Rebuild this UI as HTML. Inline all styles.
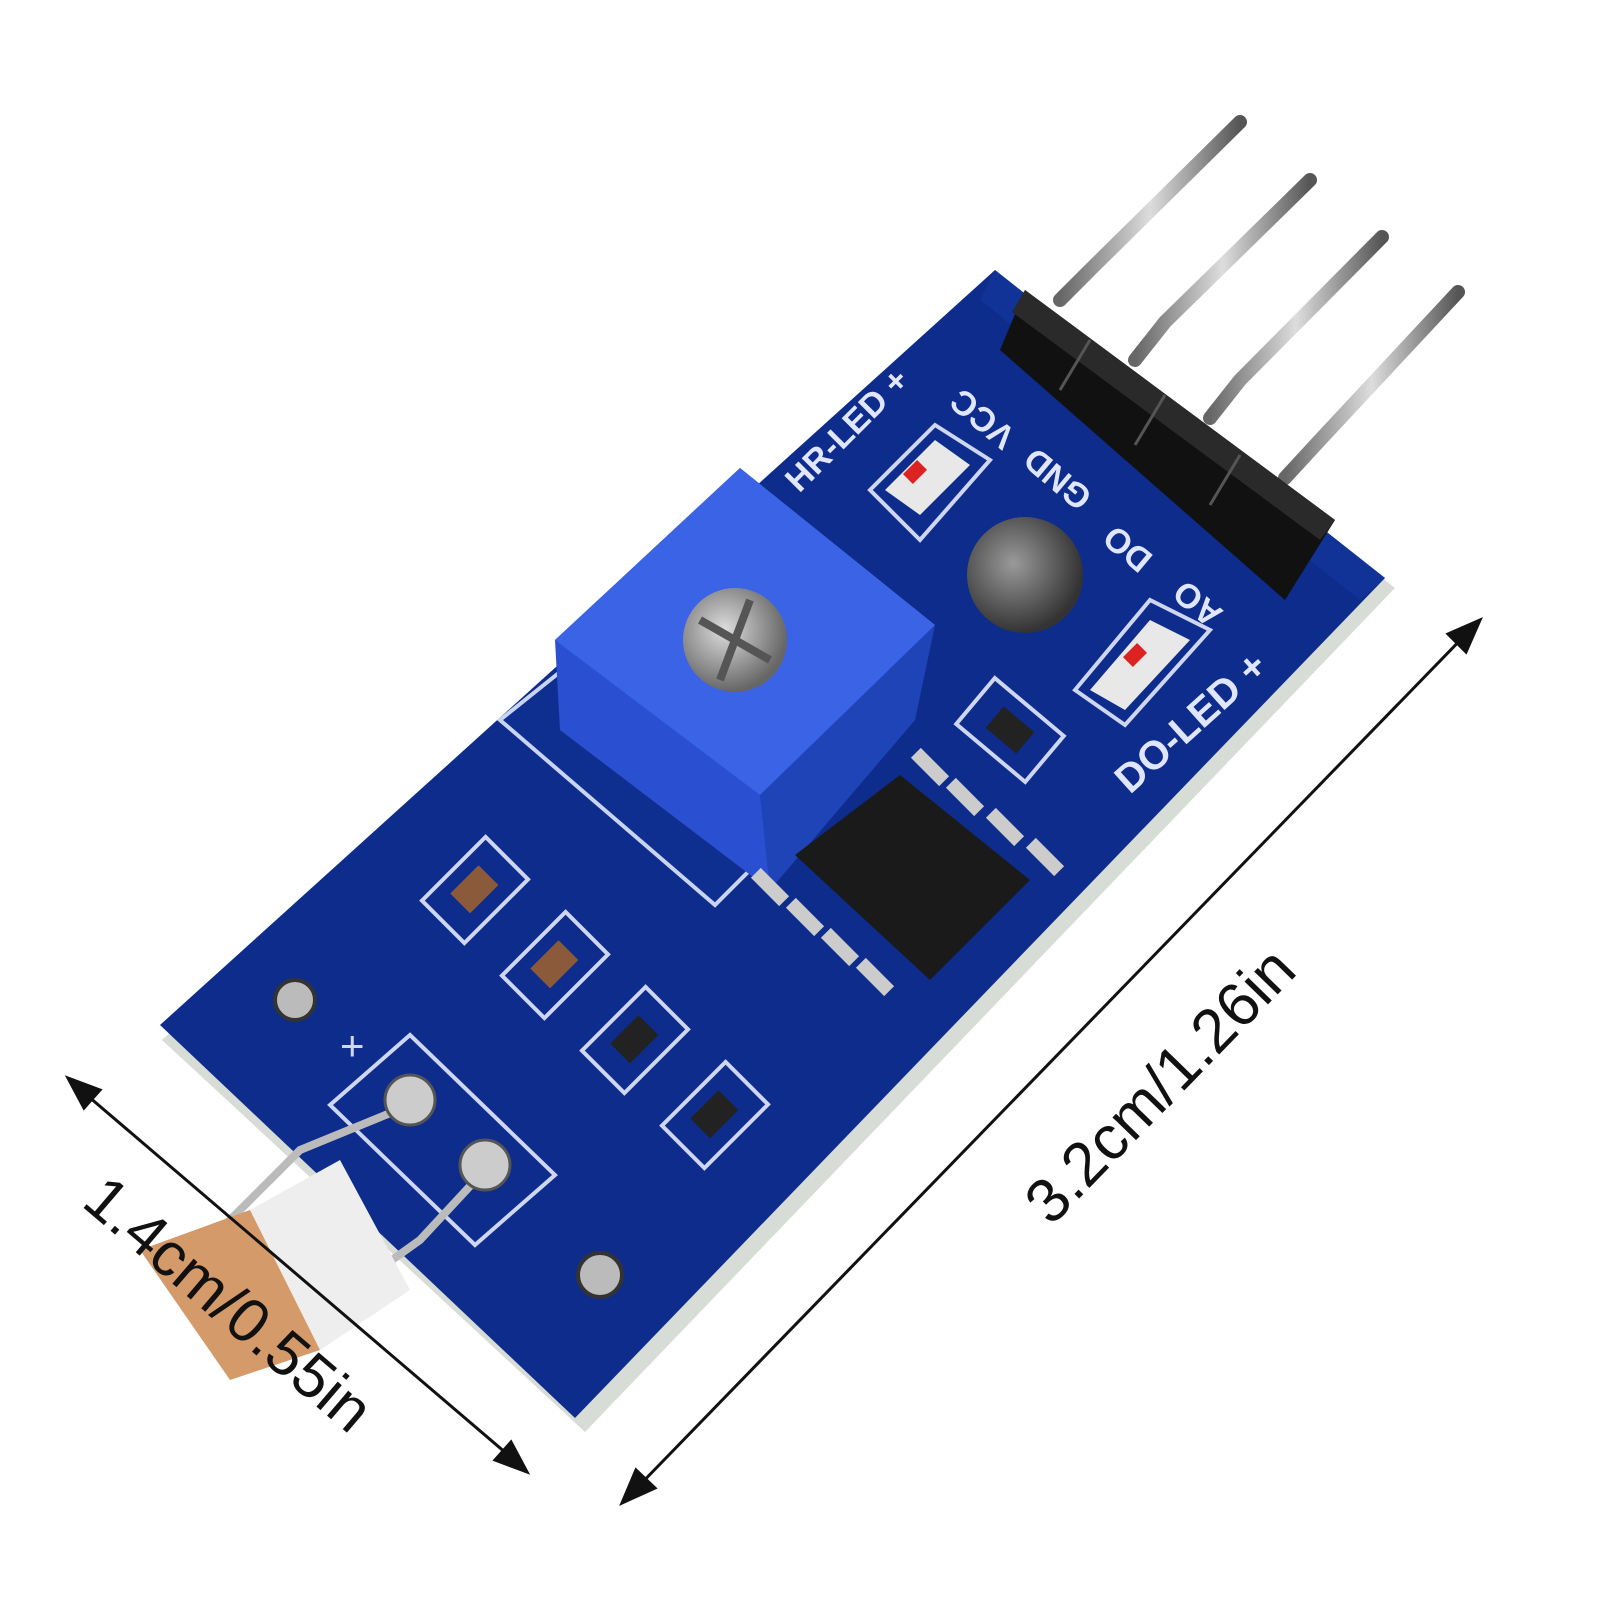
<!DOCTYPE html>
<html><head><meta charset="utf-8"><style>
html,body{margin:0;padding:0;background:#fff;}
svg{display:block;}
</style></head><body>
<svg width="1600" height="1600" viewBox="0 0 1600 1600" xmlns="http://www.w3.org/2000/svg">
<defs>
<linearGradient id="pin" x1="0" y1="0" x2="1" y2="0">
<stop offset="0" stop-color="#666"/><stop offset="0.5" stop-color="#ddd"/><stop offset="1" stop-color="#555"/>
</linearGradient>
<radialGradient id="hole" cx="0.4" cy="0.4" r="0.6"><stop offset="0" stop-color="#9a9a9a"/><stop offset="1" stop-color="#333"/></radialGradient>
<radialGradient id="screw" cx="0.4" cy="0.4" r="0.6"><stop offset="0" stop-color="#ddd"/><stop offset="1" stop-color="#666"/></radialGradient>
</defs>

<polygon points="1000,278 1395,588 585,1432 162,1040" fill="#d8dcd6"/>
<polygon points="995,270 1385,578 575,1418 160,1025" fill="#0d2c8c"/>
<polygon points="995,270 1385,578 1360,600 980,300" fill="#14389e" opacity="0.6"/>

<g stroke="url(#pin)" stroke-width="14" stroke-linecap="round" fill="none">
<path d="M1240,122 L1095,265 L1060,300"/>
<path d="M1310,180 L1165,322 L1135,360"/>
<path d="M1382,237 L1240,380 L1210,418"/>
<path d="M1458,292 L1320,440 L1285,478"/>
</g>
<polygon points="1025,290 1335,520 1285,600 1000,350" fill="#111"/>
<polygon points="1025,290 1335,520 1320,540 1012,312" fill="#2a2a2a"/>
<g stroke="#555" stroke-width="3">
<line x1="1090" y1="340" x2="1060" y2="390"/><line x1="1165" y1="395" x2="1135" y2="445"/><line x1="1240" y1="455" x2="1210" y2="505"/>
</g>

<circle cx="1025" cy="575" r="58" fill="url(#hole)"/>

<polygon points="500,720 700,560 910,710 715,905" fill="#0f2f90" stroke="#c8d4f0" stroke-width="4"/>
<polygon points="555,640 740,468 935,625 770,890 560,730" fill="#2a4fd0"/>
<polygon points="555,640 740,468 935,625 760,795" fill="#3b63e6"/>
<polygon points="760,795 935,625 915,720 770,890" fill="#1f44b8"/>
<circle cx="735" cy="640" r="52" fill="url(#screw)"/>
<path d="M700,620 L770,660 M720,680 L750,600" stroke="#555" stroke-width="8"/>

<g>
<polygon points="870,490 935,425 990,460 920,540" fill="none" stroke="#cfd6f0" stroke-width="4"/>
<polygon points="885,490 935,440 970,465 920,515" fill="#e8e8e8"/>
<rect x="905" y="465" width="20" height="14" fill="#d22" transform="rotate(-45 915 472)"/>
<polygon points="1075,690 1150,600 1210,630 1125,725" fill="none" stroke="#cfd6f0" stroke-width="4"/>
<polygon points="1090,690 1150,620 1190,640 1125,710" fill="#e8e8e8"/>
<rect x="1125" y="648" width="20" height="14" fill="#d22" transform="rotate(-45 1135 655)"/>
</g>

<polygon points="795,855 900,775 1030,880 930,980" fill="#1a1a1a"/>
<g fill="#ccc">
<rect x="750" y="880" width="40" height="14" transform="rotate(45 770 887)"/>
<rect x="785" y="910" width="40" height="14" transform="rotate(45 805 917)"/>
<rect x="820" y="940" width="40" height="14" transform="rotate(45 840 947)"/>
<rect x="855" y="970" width="40" height="14" transform="rotate(45 875 977)"/>
<rect x="910" y="760" width="40" height="14" transform="rotate(45 930 767)"/>
<rect x="945" y="790" width="40" height="14" transform="rotate(45 965 797)"/>
<rect x="985" y="820" width="40" height="14" transform="rotate(45 1005 827)"/>
<rect x="1025" y="850" width="40" height="14" transform="rotate(45 1045 857)"/>
</g>

<g stroke="#cfd6f0" stroke-width="4" fill="none">
<rect x="430" y="860" width="90" height="60" transform="rotate(-45 475 890)"/>
<rect x="510" y="935" width="90" height="60" transform="rotate(-45 555 965)"/>
<rect x="590" y="1010" width="90" height="60" transform="rotate(-45 635 1040)"/>
<rect x="670" y="1085" width="90" height="60" transform="rotate(-45 715 1115)"/>
<rect x="965" y="700" width="90" height="60" transform="rotate(40 1010 730)"/>
</g>
<g fill="#8a5a3a">
<rect x="455" y="875" width="40" height="28" transform="rotate(-45 475 890)"/>
<rect x="535" y="950" width="40" height="28" transform="rotate(-45 555 965)"/>
</g>
<g fill="#222">
<rect x="615" y="1025" width="40" height="28" transform="rotate(-45 635 1040)"/>
<rect x="695" y="1100" width="40" height="28" transform="rotate(-45 715 1115)"/>
<rect x="990" y="716" width="40" height="28" transform="rotate(40 1010 730)"/>
</g>

<polygon points="330,1105 410,1035 555,1175 475,1245" fill="none" stroke="#cfd6f0" stroke-width="4"/>
<circle cx="295" cy="1000" r="20" fill="#bbb" stroke="#333" stroke-width="4"/>
<circle cx="600" cy="1275" r="22" fill="#bbb" stroke="#333" stroke-width="4"/>
<text x="340" y="1060" font-family="Liberation Sans,sans-serif" font-size="42" fill="#cfd6f0">+</text>

<path d="M410,1105 L300,1150 L220,1230" stroke="#bbb" stroke-width="8" fill="none"/>
<path d="M485,1170 L420,1240 L350,1290" stroke="#bbb" stroke-width="8" fill="none"/>
<polygon points="250,1210 340,1160 410,1290 320,1350" fill="#eeeeee"/>
<polygon points="140,1250 250,1210 320,1350 230,1380" fill="#d49a6a"/>
<circle cx="410" cy="1100" r="25" fill="#ccc" stroke="#555" stroke-width="3"/>
<circle cx="485" cy="1165" r="25" fill="#ccc" stroke="#555" stroke-width="3"/>

<g font-family="Liberation Sans,sans-serif" fill="#e0e6ff" font-weight="bold">
<text x="0" y="0" font-size="40" transform="translate(1130,795) rotate(-42)">DO-LED +</text>
<text x="0" y="0" font-size="34" text-anchor="middle" transform="translate(990,410) rotate(-140)">VCC</text>
<text x="0" y="0" font-size="34" text-anchor="middle" transform="translate(1065,470) rotate(-140)">GND</text>
<text x="0" y="0" font-size="34" text-anchor="middle" transform="translate(1135,540) rotate(-140)">DO</text>
<text x="0" y="0" font-size="34" text-anchor="middle" transform="translate(1205,595) rotate(-140)">AO</text>
<text x="0" y="0" font-size="34" text-anchor="middle" transform="translate(855,438) rotate(-45)">HR-LED +</text>
</g>

<g stroke="#111" stroke-width="3" fill="#111">
<line x1="630" y1="1495" x2="1472" y2="628"/>
<polygon points="622,1503 636,1470 655,1488"/>
<polygon points="1480,620 1448,634 1466,652"/>
<line x1="75" y1="1085" x2="520" y2="1465"/>
<polygon points="68,1078 100,1090 84,1108"/>
<polygon points="527,1472 495,1460 511,1442"/>
</g>
<text x="0" y="0" font-family="Liberation Sans,sans-serif" font-size="62" fill="#111" text-anchor="middle" transform="translate(1175,1100) rotate(-45.8)">3.2cm/1.26in</text>
<text x="0" y="0" font-family="Liberation Sans,sans-serif" font-size="62" fill="#111" text-anchor="middle" transform="translate(215,1320) rotate(40.5)">1.4cm/0.55in</text>
</svg>
</body></html>
